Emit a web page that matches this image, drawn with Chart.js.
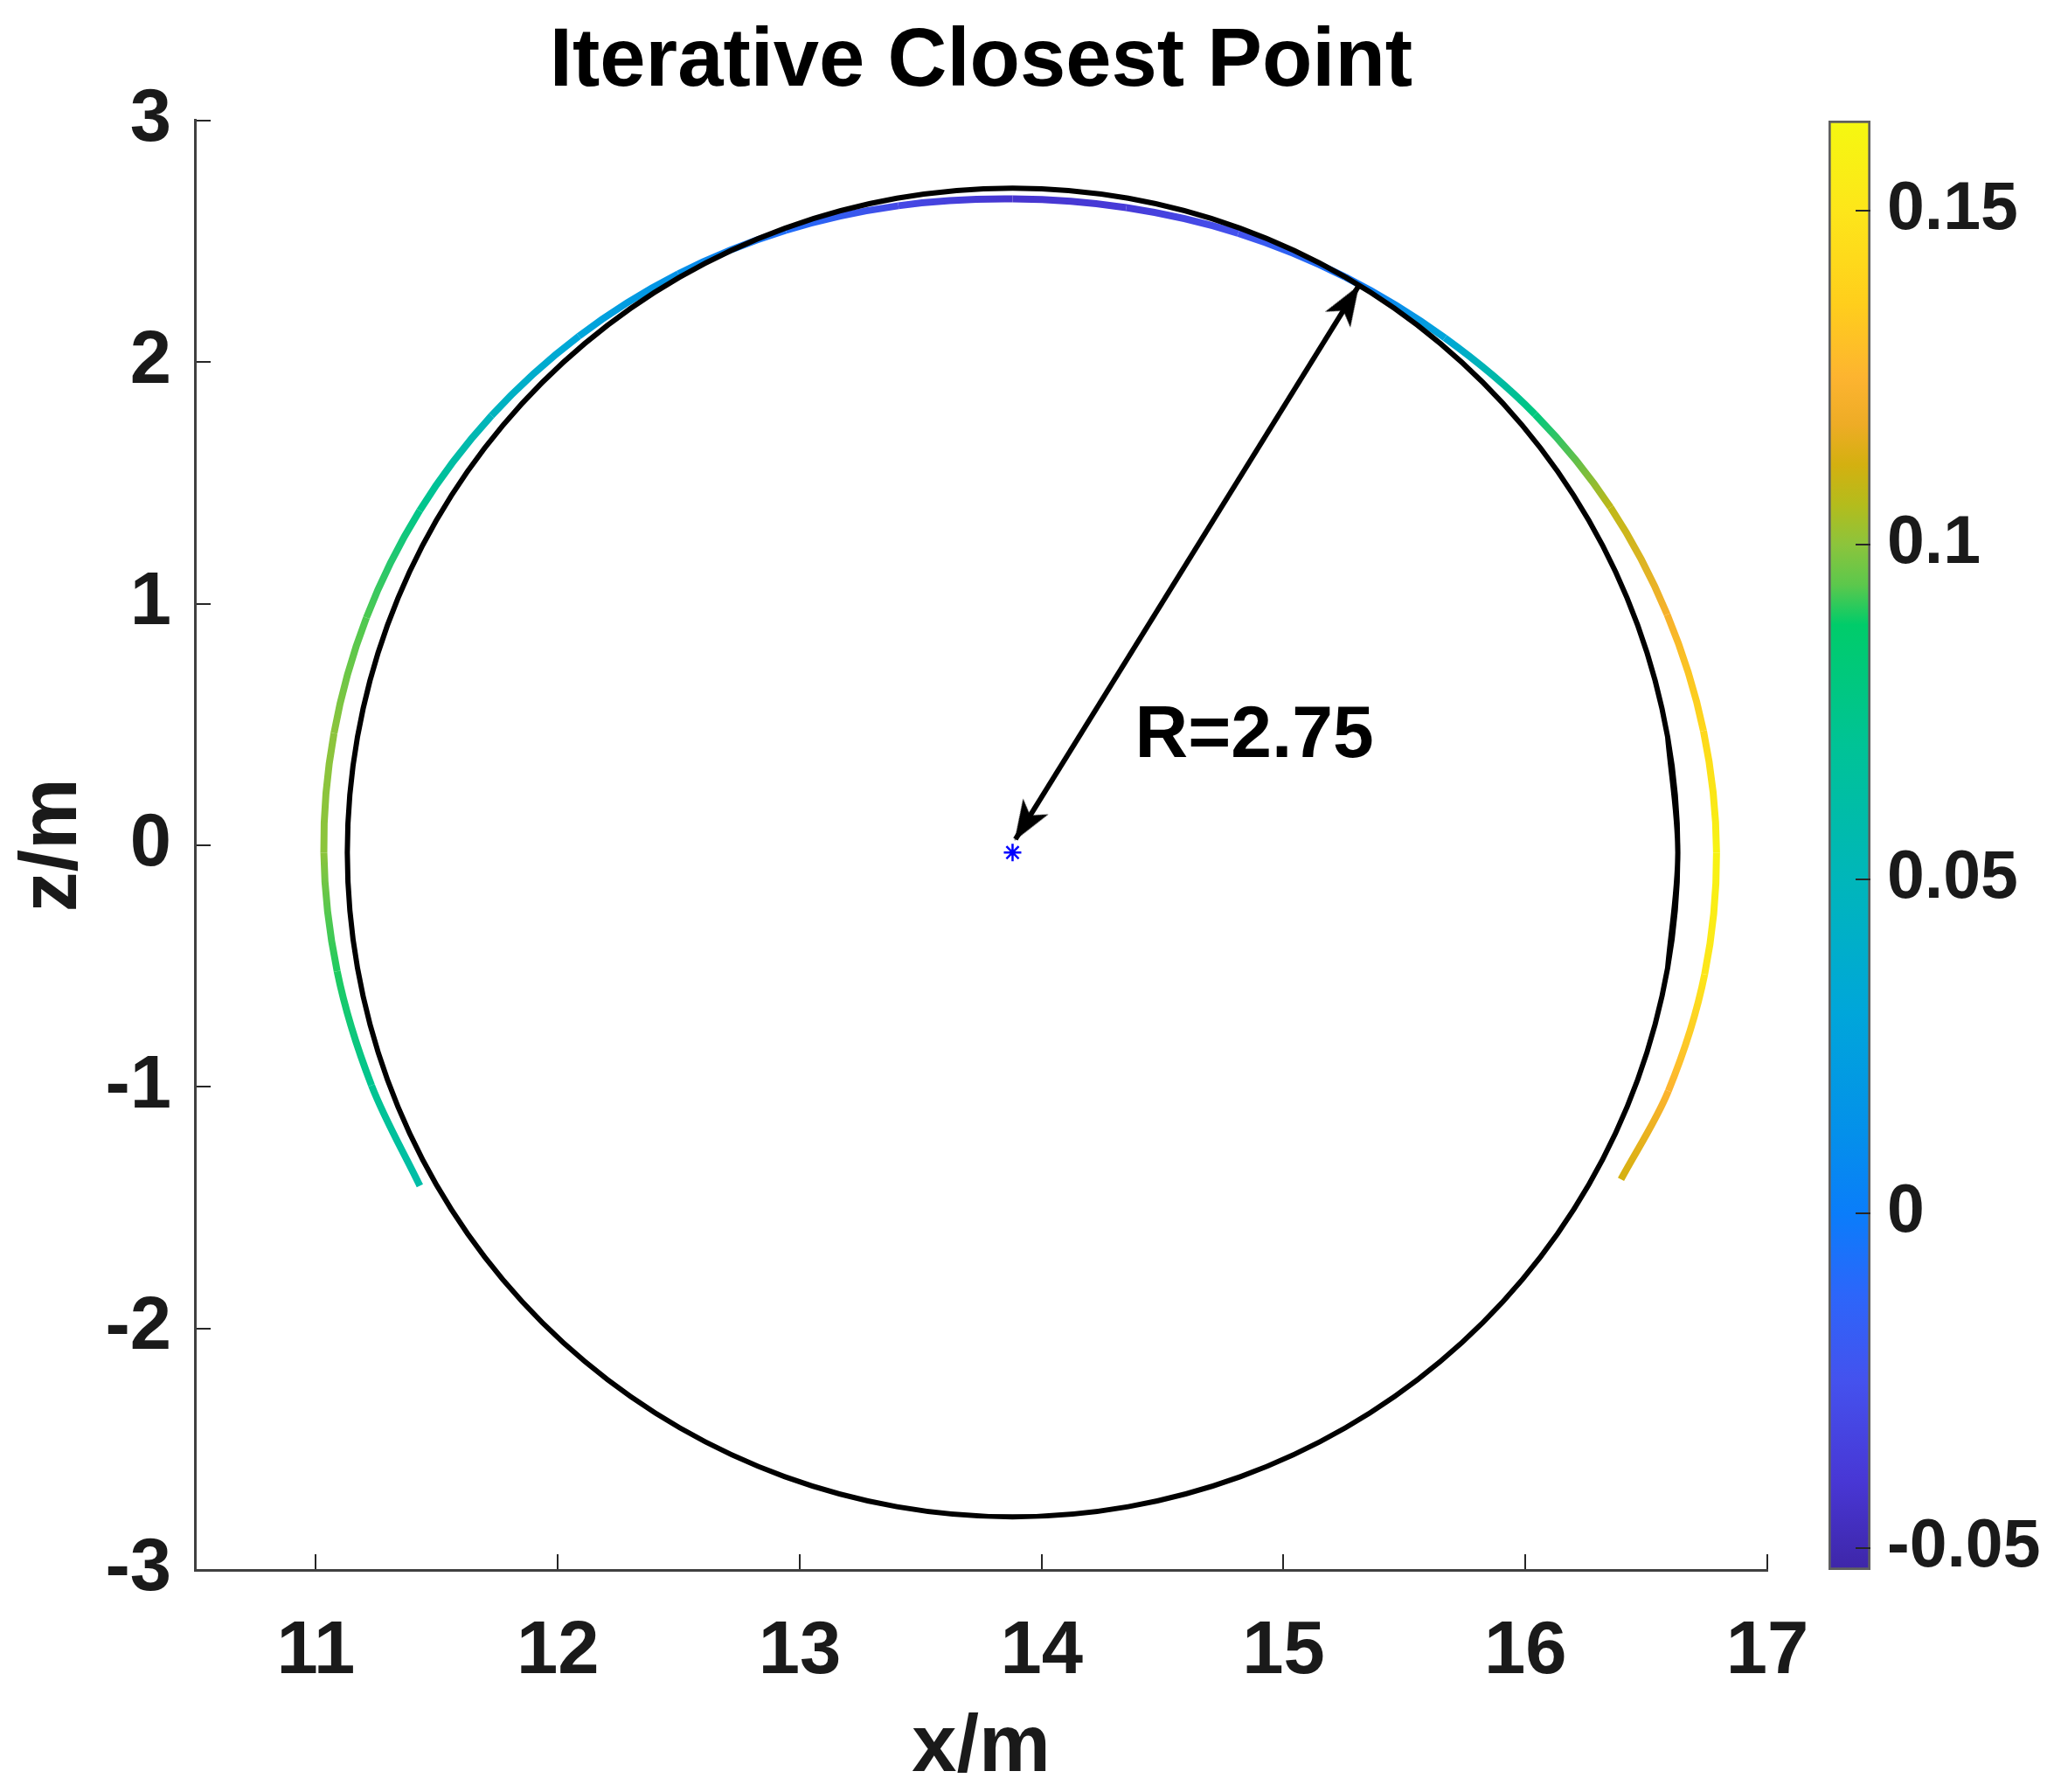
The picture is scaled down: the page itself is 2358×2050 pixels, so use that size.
<!DOCTYPE html>
<html><head><meta charset="utf-8">
<script src="https://cdn.jsdelivr.net/npm/chart.js@4.4.1/dist/chart.umd.min.js"></script>
<style>
html,body{margin:0;padding:0;background:#fff;}
#wrap{position:relative;width:2358px;height:2050px;background:#fff;}
canvas{position:absolute;left:0;top:0;}
</style></head><body>
<div id="wrap"><canvas id="main" width="2358" height="2050"></canvas><canvas id="cbar" width="2358" height="2050"></canvas></div>
<script>
// ---------------- data ----------------
const titleText = 'Iterative Closest Point';
const xLabel = 'x/m';
const zLabel = 'z/m';
const xRange = [10.5, 17];
const zRange = [-3, 3];
const xTicks = [11, 12, 13, 14, 15, 16, 17];
const zTicks = [-3, -2, -1, 0, 1, 2, 3];

// fitted circle (black), traced once round plus a small overlap so the loop closes smoothly
const circleX = [16.588,16.630,16.588,16.464,16.262,15.987,15.648,15.255,14.821,14.358,13.880,13.402,12.939,12.505,12.112,11.773,11.498,11.296,11.172,11.130,11.172,11.296,11.498,11.773,12.112,12.505,12.939,13.402,13.880,14.358,14.821,15.255,15.648,15.987,16.262,16.464,16.588,16.630,16.588];
const circleZ = [-0.508,-0.030,0.448,0.911,1.345,1.738,2.077,2.352,2.554,2.678,2.720,2.678,2.554,2.352,2.077,1.738,1.345,0.911,0.448,-0.030,-0.508,-0.971,-1.405,-1.798,-2.137,-2.412,-2.614,-2.738,-2.780,-2.738,-2.614,-2.412,-2.137,-1.798,-1.405,-0.971,-0.508,-0.030,0.448];

// measured point arc (coloured by deviation)
const arcX = [11.430,11.230,11.088,11.033,11.075,11.209,11.429,11.726,12.087,12.498,12.943,13.408,13.880,14.350,14.813,15.255,15.667,16.040,16.352,16.586,16.736,16.790,16.741,16.591,16.395];
const arcZ = [-1.410,-0.994,-0.522,-0.030,0.464,0.942,1.385,1.778,2.107,2.365,2.545,2.647,2.675,2.639,2.533,2.352,2.100,1.783,1.398,0.955,0.473,-0.030,-0.534,-1.017,-1.383];
const arcC = [0.060,0.072,0.090,0.100,0.100,0.093,0.075,0.048,0.030,0.014,-0.008,-0.030,-0.042,-0.038,-0.025,-0.004,0.030,0.080,0.108,0.122,0.142,0.160,0.150,0.125,0.112];

// centre marker and radius arrow
const centerX = [13.88];
const centerZ = [-0.03];
const arrowX = [13.892, 15.308];
const arrowZ = [0.025, 2.311];
const radiusText = 'R=2.75';
const radiusTextX = [14.386];
const radiusTextZ = [0.448];

// colour bar
const cbRange = [-0.0533, 0.1634];
const cbTicks = [-0.05, 0, 0.05, 0.1, 0.15];
const cbTickLabels = ['-0.05', '0', '0.05', '0.1', '0.15'];
const cmapVals   = [-0.054, -0.040, -0.025, -0.012, 0.000, 0.012, 0.030, 0.050, 0.070, 0.088, 0.094, 0.100, 0.106, 0.112, 0.118, 0.125, 0.136, 0.150, 0.164];
const cmapColors = ['#3E26A8','#4837D5','#4452EE','#2C66FA','#0A7DFA','#0490EA','#00A6DA','#00B6BA','#00C396','#00CC6A','#5CC84C','#8CC43C','#B4BC1C','#D4B010','#EEAC26','#FDB430','#FFCE1C','#FDE61A','#F5F810'];

// ---------------- helpers ----------------
const FONT = '"Liberation Sans", Arial, Helvetica, sans-serif';
Chart.defaults.font.family = FONT;

function hex2rgb(h){return [parseInt(h.slice(1,3),16),parseInt(h.slice(3,5),16),parseInt(h.slice(5,7),16)];}
function cmap(v){
  const n = cmapVals.length;
  if (v <= cmapVals[0]) return cmapColors[0];
  if (v >= cmapVals[n-1]) return cmapColors[n-1];
  let i = 0; while (v > cmapVals[i+1]) i++;
  const t = (v - cmapVals[i]) / (cmapVals[i+1] - cmapVals[i]);
  const a = hex2rgb(cmapColors[i]), b = hex2rgb(cmapColors[i+1]);
  return 'rgb(' + a.map((c,k)=>Math.round(c + (b[k]-c)*t)).join(',') + ')';
}

// arrow head image (tip at the centre, pointing up)
const arrowHead = document.createElement('canvas');
arrowHead.width = 100; arrowHead.height = 100;
(function(){
  const g = arrowHead.getContext('2d');
  g.fillStyle = '#000';
  g.beginPath();
  g.moveTo(50, 48); g.lineTo(67, 94); g.lineTo(50, 82); g.lineTo(33, 94); g.closePath();
  g.fill();
})();

const textPlugin = {
  id: 'radiusText',
  afterDatasetsDraw(chart){
    const {ctx, scales} = chart;
    ctx.save();
    ctx.font = 'bold 84px ' + FONT;
    ctx.fillStyle = '#000';
    ctx.textAlign = 'left';
    ctx.textBaseline = 'middle';
    ctx.fillText(radiusText, scales.x.getPixelForValue(radiusTextX[0]), scales.y.getPixelForValue(radiusTextZ[0]));
    ctx.restore();
  }
};

const pts = (xs, zs) => xs.map((x, i) => ({x: x, y: zs[i]}));
const tickColor = '#262626';
const labelColor = '#1a1a1a';

// ---------------- main chart ----------------
new Chart(document.getElementById('main'), {
  type: 'scatter',
  data: {
    datasets: [
      {
        label: 'radius',
        data: pts(arrowX, arrowZ),
        showLine: true,
        borderColor: '#000',
        backgroundColor: '#000',
        borderWidth: 6,
        pointStyle: arrowHead,
        pointRadius: 10,
        rotation: (ctx) => {
          const ch = ctx.chart;
          if (ctx.dataIndex === undefined || !ch.scales.x) return 0;
          const i = ctx.dataIndex, j = 1 - i;
          const dx = ch.scales.x.getPixelForValue(arrowX[i]) - ch.scales.x.getPixelForValue(arrowX[j]);
          const dy = ch.scales.y.getPixelForValue(arrowZ[i]) - ch.scales.y.getPixelForValue(arrowZ[j]);
          return Math.atan2(dx, -dy) * 180 / Math.PI;
        },
        order: 0
      },
      {
        label: 'centre',
        data: pts(centerX, centerZ),
        showLine: false,
        pointStyle: 'star',
        pointRadius: 10,
        borderColor: '#0000ff',
        backgroundColor: '#0000ff',
        borderWidth: 2.5,
        order: 1
      },
      {
        label: 'circle',
        data: pts(circleX, circleZ),
        showLine: true,
        borderColor: '#000',
        borderWidth: 6,
        pointRadius: 0,
        tension: 0.33,
        order: 2
      },
      {
        label: 'points',
        data: pts(arcX, arcZ),
        showLine: true,
        borderColor: cmap(arcC[0]),
        borderWidth: 8,
        pointRadius: 0,
        tension: 0.33,
        segment: {
          borderColor: (sc) => {
            const g = sc.chart.ctx.createLinearGradient(sc.p0.x, sc.p0.y, sc.p1.x, sc.p1.y);
            g.addColorStop(0, cmap(arcC[sc.p0DataIndex]));
            g.addColorStop(1, cmap(arcC[sc.p1DataIndex]));
            return g;
          }
        },
        order: 3
      }
    ]
  },
  options: {
    responsive: false,
    animation: false,
    events: [],
    layout: { padding: { left: 0, top: 0, right: 336, bottom: 0 } },
    plugins: {
      legend: { display: false },
      tooltip: { enabled: false },
      title: {
        display: true, text: titleText, fullSize: false, color: '#000',
        font: { size: 94, weight: 'bold', family: FONT },
        padding: { top: 16, bottom: 9 }
      }
    },
    scales: {
      x: {
        type: 'linear', position: 'bottom', min: xRange[0], max: xRange[1],
        afterBuildTicks: (s) => { s.ticks = xTicks.map(v => ({value: v})); },
        afterFit: (s) => { s.height = 254; },
        ticks: { font: { size: 85, weight: 'bold', family: FONT }, color: labelColor, padding: 62, maxRotation: 0, autoSkip: false, callback: (v) => String(v) },
        grid: { drawOnChartArea: false, drawTicks: true, tickLength: -18, color: tickColor, lineWidth: 2 },
        border: { display: true, color: '#404040', width: 3 },
        title: { display: true, text: xLabel, color: labelColor, font: { size: 92, weight: 'bold', family: FONT }, padding: { top: 0, bottom: -6 } }
      },
      y: {
        type: 'linear', position: 'left', min: zRange[0], max: zRange[1],
        afterBuildTicks: (s) => { s.ticks = zTicks.map(v => ({value: v})); },
        afterFit: (s) => { s.width = 223; },
        ticks: { font: { size: 85, weight: 'bold', family: FONT }, color: labelColor, padding: 45, autoSkip: false, callback: (v) => String(v) },
        grid: { drawOnChartArea: false, drawTicks: true, tickLength: -18, color: tickColor, lineWidth: 2 },
        border: { display: true, color: '#404040', width: 3 },
        title: { display: true, text: zLabel, color: labelColor, font: { size: 92, weight: 'bold', family: FONT }, padding: { top: 6, bottom: 0 } }
      }
    }
  },
  plugins: [textPlugin]
});

// ---------------- colour bar ----------------
new Chart(document.getElementById('cbar'), {
  type: 'bar',
  data: {
    labels: [''],
    datasets: [{
      data: [[cbRange[0], cbRange[1]]],
      backgroundColor: (ctx) => {
        const ch = ctx.chart, ys = ch.scales.y;
        if (!ch.chartArea || !ys) return cmapColors[0];
        const y0 = ys.getPixelForValue(cbRange[0]), y1 = ys.getPixelForValue(cbRange[1]);
        const g = ch.ctx.createLinearGradient(0, y0, 0, y1);
        cmapVals.forEach((v, i) => {
          g.addColorStop(Math.min(1, Math.max(0, (v - cbRange[0]) / (cbRange[1] - cbRange[0]))), cmapColors[i]);
        });
        return g;
      },
      borderColor: '#606060',
      borderWidth: 3,
      borderSkipped: false,
      barPercentage: 1,
      categoryPercentage: 1
    }]
  },
  options: {
    responsive: false,
    animation: false,
    events: [],
    layout: { padding: { left: 2092, top: 138, bottom: 254, right: 0 } },
    plugins: { legend: { display: false }, tooltip: { enabled: false }, title: { display: false } },
    scales: {
      x: { display: false },
      y: {
        type: 'linear', position: 'right', min: cbRange[0], max: cbRange[1],
        afterBuildTicks: (s) => { s.ticks = cbTicks.map(v => ({value: v})); },
        afterFit: (s) => { s.width = 218; },
        ticks: { font: { size: 77, weight: 'bold', family: FONT }, color: labelColor, padding: 36, autoSkip: false, callback: (v, i) => cbTickLabels[i] },
        grid: { drawOnChartArea: false, drawTicks: true, tickLength: -17, color: tickColor, lineWidth: 2, z: 1 },
        border: { display: false }
      }
    }
  }
});
</script>
</body></html>
